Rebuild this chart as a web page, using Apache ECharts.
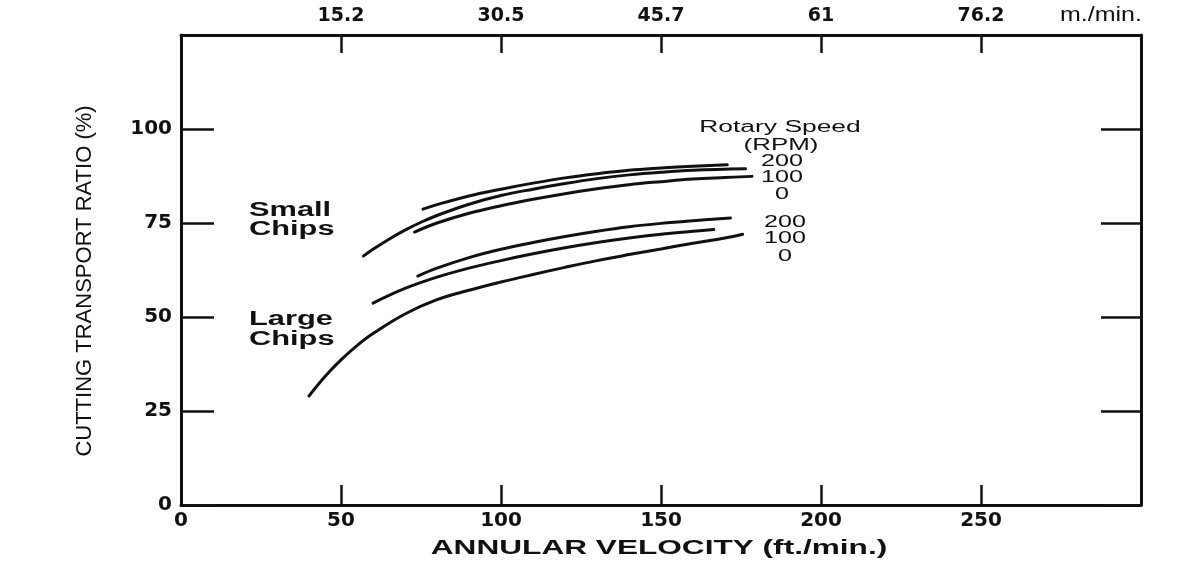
<!DOCTYPE html>
<html>
<head>
<meta charset="utf-8">
<script src="https://cdn.jsdelivr.net/npm/echarts@6/dist/echarts.min.js"></script>
<style>
  html, body { margin: 0; padding: 0; background: #fff; }
  #chart { width: 1203px; height: 562px; }
</style>
</head>
<body>
<div id="chart"></div>
<script>
// Bottom axis: annular velocity in ft/min; top axis shows the same ticks in m/min
const velocityTicks = [50, 100, 150, 200, 250];
const metricLabels = ['15.2', '30.5', '45.7', '61', '76.2'];
const ratioTicks = [0, 25, 50, 75, 100];
const rpmLabels = ['200', '100', '0'];

// Cutting transport ratio (%) against annular velocity (ft/min), one curve per rotary speed
const smallChips200 = [[75.6, 78.7], [80, 79.9], [90, 82.2], [100, 84.0], [110, 85.6], [120, 87.0], [130, 88.1], [140, 89.0], [150, 89.6], [160, 90.1], [170.7, 90.5]];
const smallChips100 = [[57, 66.2], [60, 68.0], [65, 70.7], [70, 73.1], [75, 75.2], [80, 77.0], [90, 80.0], [100, 82.3], [110, 84.0], [120, 85.5], [130, 86.8], [140, 87.8], [150, 88.5], [160, 89.0], [176.4, 89.4]];
const smallChips0 = [[73, 72.6], [80, 75.0], [90, 77.6], [100, 79.6], [110, 81.3], [120, 82.8], [130, 84.1], [140, 85.2], [150, 86.0], [160, 86.7], [170, 87.1], [178.4, 87.4]];
const largeChips200 = [[74, 60.9], [80, 63.0], [90, 65.8], [100, 68.0], [110, 69.8], [120, 71.4], [130, 72.8], [140, 74.0], [150, 74.9], [160, 75.6], [171.7, 76.3]];
const largeChips100 = [[60, 53.7], [70, 57.6], [80, 60.6], [90, 63.0], [100, 65.0], [110, 66.8], [120, 68.4], [130, 69.8], [140, 71.0], [150, 72.0], [160, 72.8], [166.5, 73.3]];
const largeChips0 = [[40, 29], [45, 34.2], [50, 38.6], [55, 42.4], [60, 45.6], [70, 50.8], [80, 54.6], [90, 57.1], [100, 59.3], [110, 61.3], [120, 63.2], [130, 65.0], [140, 66.6], [150, 68.1], [160, 69.6], [170, 71.0], [175.5, 72.0]];

const curves = [
  { name: 'Small chips, 200 RPM', data: smallChips200 },
  { name: 'Small chips, 100 RPM', data: smallChips100 },
  { name: 'Small chips, 0 RPM', data: smallChips0 },
  { name: 'Large chips, 200 RPM', data: largeChips200 },
  { name: 'Large chips, 100 RPM', data: largeChips100 },
  { name: 'Large chips, 0 RPM', data: largeChips0 }
];

const INK = '#111';
const SANS = '"Liberation Sans", Arial, sans-serif';
const WIDE = '"DejaVu Sans", sans-serif';

// Free-standing text, widened horizontally like the rest of the lettering
function note(text, x, y, size, weight, stretch, align) {
  return {
    type: 'text',
    x: x, y: y,
    scaleX: stretch,
    silent: true,
    style: {
      text: text,
      fill: INK,
      fontFamily: SANS,
      fontSize: size,
      fontWeight: weight,
      align: align || 'center',
      verticalAlign: 'middle',
      textAlign: align || 'center',
      textVerticalAlign: 'middle'
    }
  };
}

const graphics = [
  note('m./min.', 1101, 15, 20, 'normal', 1.25),
  note('ANNULAR VELOCITY (ft./min.)', 659, 548, 20, 'bold', 1.58),
  note('Small', 249, 210, 20, 'bold', 1.54, 'left'),
  note('Chips', 249, 229, 20, 'bold', 1.54, 'left'),
  note('Large', 249, 319, 20, 'bold', 1.54, 'left'),
  note('Chips', 249, 339, 20, 'bold', 1.54, 'left'),
  note('Rotary Speed', 780, 128, 16, 'normal', 1.65),
  note('(RPM)', 781, 146, 16, 'normal', 1.62)
];
const upperRpmY = [162, 178, 195];
const lowerRpmY = [223, 239, 257];
rpmLabels.forEach(function (t, i) {
  graphics.push(note(t, 782, upperRpmY[i], 16, 'normal', 1.57));
  graphics.push(note(t, 785, lowerRpmY[i], 16, 'normal', 1.57));
});

const axisLine = { show: true, onZero: false, lineStyle: { color: INK, width: 3 } };

const option = {
  backgroundColor: '#fff',
  animation: false,
  grid: { left: 181, right: 62, top: 35, bottom: 57 },
  xAxis: [
    {
      type: 'value', position: 'bottom',
      min: 0, max: 300, interval: 50,
      splitLine: { show: false },
      axisLine: axisLine,
      axisTick: { inside: true, length: 20, lineStyle: { color: INK, width: 2.5 } },
      axisLabel: {
        color: INK, fontFamily: WIDE, fontWeight: 'bold', fontSize: 20, margin: 6,
        formatter: function (v) { return v < 300 ? String(v) : ''; }
      }
    },
    {
      type: 'value', position: 'top',
      min: 0, max: 300, interval: 50,
      splitLine: { show: false },
      axisLine: axisLine,
      axisTick: { inside: true, length: 18, lineStyle: { color: INK, width: 2.5 } },
      axisLabel: {
        color: INK, fontFamily: WIDE, fontWeight: 'bold', fontSize: 19, margin: 9,
        formatter: function (v) {
          const i = velocityTicks.indexOf(v);
          return i >= 0 ? metricLabels[i] : '';
        }
      }
    }
  ],
  yAxis: [
    {
      type: 'value', position: 'left',
      min: 0, max: 125, interval: 25,
      name: 'CUTTING TRANSPORT RATIO (%)',
      nameLocation: 'middle', nameRotate: 90, nameGap: 85,
      nameTextStyle: { color: INK, fontFamily: SANS, fontSize: 22, padding: [0, 22, 0, 0] },
      splitLine: { show: false },
      axisLine: axisLine,
      axisTick: { inside: true, length: 33, lineStyle: { color: INK, width: 2.5 } },
      axisLabel: {
        color: INK, fontFamily: WIDE, fontWeight: 'bold', fontSize: 20, margin: 9,
        formatter: function (v) { return ratioTicks.indexOf(v) >= 0 ? String(v) : ''; }
      }
    },
    {
      type: 'value', position: 'right',
      min: 0, max: 125, interval: 25,
      splitLine: { show: false },
      axisLine: axisLine,
      axisTick: { inside: true, length: 40, lineStyle: { color: INK, width: 2.5 } },
      axisLabel: { show: false }
    }
  ],
  series: curves.map(function (c) {
    return {
      name: c.name,
      type: 'line',
      xAxisIndex: 0,
      yAxisIndex: 0,
      data: c.data,
      smooth: 0.4,
      showSymbol: false,
      symbol: 'none',
      lineStyle: { color: INK, width: 3, cap: 'round' }
    };
  }),
  graphic: graphics
};

const chart = echarts.init(document.getElementById('chart'), null, { renderer: 'canvas' });
chart.setOption(option);
</script>
</body>
</html>
